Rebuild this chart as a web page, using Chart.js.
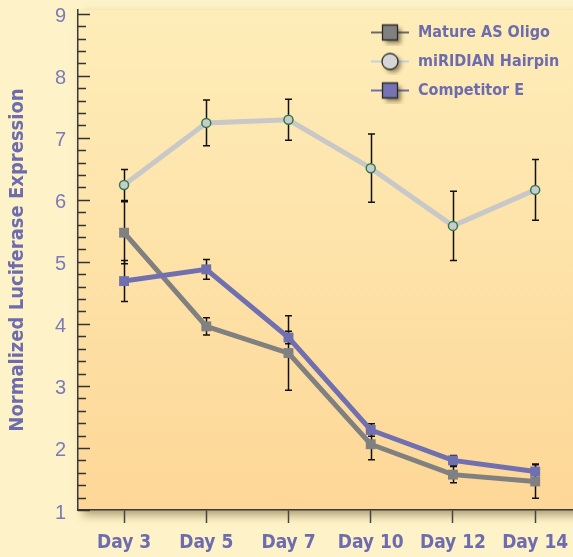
<!DOCTYPE html>
<html>
<head>
<meta charset="utf-8">
<title>Normalized Luciferase Expression</title>
<script src="https://cdn.jsdelivr.net/npm/chart.js@4.4.0/dist/chart.umd.min.js"></script>
<style>
  html, body { margin: 0; padding: 0; background: #fef2c8; }
  #wrap { width: 573px; height: 557px; }
</style>
</head>
<body>
<div id="wrap"><canvas id="luciferaseChart" width="573" height="557"></canvas></div>
<script>
// values
const days = ['Day 3', 'Day 5', 'Day 7', 'Day 10', 'Day 12', 'Day 14'];
const matureOligo = [5.47, 3.96, 3.53, 2.06, 1.57, 1.46];
const matureOligoErr = [0.5, 0.14, 0.6, 0.25, 0.13, 0.27];
const hairpin = [6.24, 7.24, 7.29, 6.51, 5.58, 6.16];
const hairpinErr = [0.25, 0.37, 0.33, 0.55, 0.56, 0.49];
const competitorE = [4.69, 4.88, 3.78, 2.29, 1.80, 1.62];
const competitorEErr = [0.33, 0.16, 0.1, 0.1, 0.08, 0.12];
const yTicks = [1, 2, 3, 4, 5, 6, 7, 8, 9];

const condensed = "'Liberation Sans Narrow', 'DejaVu Sans Condensed', 'Roboto Condensed', sans-serif";
const labelColor = '#6c6cae';

// days are evenly spaced slots on the x axis
const toPoints = (values) => values.map((v, i) => ({ x: i, y: v }));

// little line + marker icons for the legend
function makeLegendIcon(lineColor, fill, shape) {
  const c = document.createElement('canvas');
  c.width = 44;
  c.height = 26;
  const g = c.getContext('2d');
  g.strokeStyle = lineColor;
  g.lineWidth = 2;
  g.beginPath();
  g.moveTo(3, 13);
  g.lineTo(41, 13);
  g.stroke();
  g.save();
  g.shadowColor = 'rgba(60, 50, 20, 0.55)';
  g.shadowBlur = 4;
  g.shadowOffsetX = 3;
  g.shadowOffsetY = 3;
  g.fillStyle = fill;
  g.beginPath();
  if (shape === 'circle') {
    g.arc(22, 13, 8, 0, Math.PI * 2);
  } else {
    g.rect(14.5, 5.5, 15, 15);
  }
  g.fill();
  g.restore();
  g.strokeStyle = '#2a2a2a';
  g.lineWidth = 1.3;
  g.stroke();
  return c;
}

const legendIcons = [
  makeLegendIcon('#6a6a6a', '#808080', 'rect'),
  makeLegendIcon('#c9cfe0', '#d6d6d6', 'circle'),
  makeLegendIcon('#6e6eb0', '#7474b4', 'rect')
];

const plotBackground = {
  id: 'plotBackground',
  beforeDraw(chart) {
    const {ctx, chartArea: a} = chart;
    const grad = ctx.createLinearGradient(0, a.top, 0, a.bottom);
    grad.addColorStop(0, '#feedb9');
    grad.addColorStop(1, '#fdd797');
    ctx.save();
    ctx.shadowColor = 'rgba(90, 70, 30, 0.5)';
    ctx.shadowBlur = 9;
    ctx.shadowOffsetX = 5;
    ctx.shadowOffsetY = 5;
    ctx.fillStyle = grad;
    ctx.fillRect(a.left, a.top, a.right - a.left + 20, a.bottom - a.top);
    ctx.restore();
  }
};

// y axis tick marks point into the plot
const innerTicks = {
  id: 'innerTicks',
  afterDraw(chart) {
    const {ctx, chartArea: a, scales: {y}} = chart;
    ctx.save();
    ctx.strokeStyle = '#333';
    ctx.lineWidth = 1.5;
    for (let v = y.min; v <= y.max + 1e-6; v += 0.2) {
      const major = Math.abs(v - Math.round(v)) < 1e-6;
      const py = Math.round(y.getPixelForValue(v)) + 0.5;
      ctx.beginPath();
      ctx.moveTo(a.left, py);
      ctx.lineTo(a.left + (major ? 12 : 8), py);
      ctx.stroke();
    }
    ctx.restore();
  }
};

const errorBars = {
  id: 'errorBars',
  beforeDatasetsDraw(chart) {
    const {ctx, scales: {y}} = chart;
    ctx.save();
    ctx.strokeStyle = '#111';
    ctx.lineWidth = 1.5;
    chart.data.datasets.forEach((ds, i) => {
      const meta = chart.getDatasetMeta(i);
      ds.errors.forEach((e, j) => {
        const px = Math.round(meta.data[j].x) + 0.5;
        const val = ds.data[j].y;
        const top = y.getPixelForValue(val + e);
        const bot = y.getPixelForValue(val - e);
        ctx.beginPath();
        ctx.moveTo(px, top);
        ctx.lineTo(px, bot);
        ctx.moveTo(px - 3.5, top);
        ctx.lineTo(px + 3.5, top);
        ctx.moveTo(px - 3.5, bot);
        ctx.lineTo(px + 3.5, bot);
        ctx.stroke();
      });
    });
    ctx.restore();
  }
};

// put the legend in the top right corner of the plot
const legendCorner = {
  id: 'legendCorner',
  afterLayout(chart) {
    const lg = chart.legend;
    if (!lg) return;
    const w = lg.width;
    lg.left = chart.chartArea.right - 216;
    lg.right = lg.left + w;
    lg.top = chart.chartArea.top + 1.5;
  }
};

const ctx = document.getElementById('luciferaseChart').getContext('2d');
new Chart(ctx, {
  type: 'line',
  data: {
    datasets: [{
      label: 'Mature AS Oligo',
      data: toPoints(matureOligo),
      errors: matureOligoErr,
      borderColor: '#808080',
      backgroundColor: '#808080',
      borderWidth: 5,
      pointStyle: 'rect',
      pointRadius: 7,
      pointBorderWidth: 0,
      order: 1
    }, {
      label: 'miRIDIAN Hairpin',
      data: toPoints(hairpin),
      errors: hairpinErr,
      borderColor: '#c8c8c8',
      backgroundColor: '#c9cccb',
      borderWidth: 5,
      pointStyle: 'circle',
      pointRadius: 4.5,
      pointBorderWidth: 1.5,
      pointBorderColor: '#2f7a4f',
      order: 1
    }, {
      label: 'Competitor E',
      data: toPoints(competitorE),
      errors: competitorEErr,
      borderColor: '#7070b0',
      backgroundColor: '#7070b0',
      borderWidth: 5,
      pointStyle: 'rect',
      pointRadius: 7,
      pointBorderWidth: 0,
      order: 0
    }]
  },
  options: {
    responsive: false,
    animation: false,
    devicePixelRatio: 1,
    layout: {
      autoPadding: false,
      padding: { top: 10, right: 0, bottom: 0, left: 0 }
    },
    plugins: {
      tooltip: { enabled: false },
      legend: {
        position: 'chartArea',
        align: 'start',
        labels: {
          usePointStyle: true,
          pointStyleWidth: 40,
          padding: 13,
          color: labelColor,
          font: { family: condensed, size: 16, weight: 'bold' },
          generateLabels: (chart) => chart.data.datasets.map((ds, i) => ({
            text: ds.label,
            pointStyle: legendIcons[i],
            fontColor: labelColor,
            fillStyle: 'transparent',
            strokeStyle: 'transparent',
            lineWidth: 0,
            datasetIndex: i
          }))
        }
      }
    },
    scales: {
      x: {
        type: 'linear',
        min: -0.56,
        max: 5.46,
        afterFit: (s) => { s.height = 47; s.paddingLeft = 0; s.paddingRight = 0; },
        afterBuildTicks: (s) => { s.ticks = days.map((d, i) => ({ value: i })); },
        border: { display: true, color: '#3a3a3a', width: 1.5 },
        grid: {
          drawOnChartArea: false,
          drawTicks: true,
          tickLength: 13,
          tickWidth: 1.5,
          tickColor: '#444'
        },
        ticks: {
          color: labelColor,
          padding: 9,
          maxRotation: 0,
          autoSkip: false,
          callback: (value) => days[value],
          font: { family: condensed, size: 19, weight: 'bold' }
        }
      },
      y: {
        min: 1,
        max: 9.06,
        afterFit: (s) => { s.width = 78; s.paddingTop = 0; s.paddingBottom = 0; },
        afterBuildTicks: (s) => { s.ticks = yTicks.map(v => ({ value: v })); },
        border: { display: true, color: '#3a3a3a', width: 1.5 },
        grid: { drawOnChartArea: false, drawTicks: false },
        ticks: {
          color: '#7b7bba',
          padding: 12,
          labelOffset: 3,
          font: { family: "'Liberation Sans', Arial, sans-serif", size: 20 }
        },
        title: {
          display: true,
          text: 'Normalized Luciferase Expression',
          color: labelColor,
          padding: { top: 6, bottom: 0 },
          font: { family: condensed, size: 20, weight: 'bold' }
        }
      }
    }
  },
  plugins: [plotBackground, errorBars, innerTicks, legendCorner]
});
</script>
</body>
</html>
